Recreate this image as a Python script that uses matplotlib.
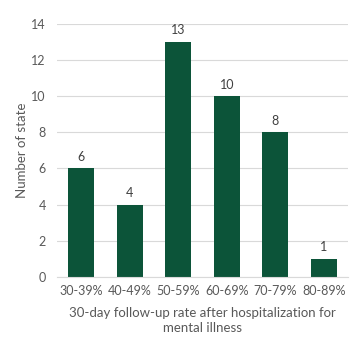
import matplotlib.pyplot as plt

categories = ["30-39%", "40-49%", "50-59%", "60-69%", "70-79%", "80-89%"]
counts = [6, 4, 13, 10, 8, 1]
y_ticks = [0, 2, 4, 6, 8, 10, 12, 14]

bar_color = "#0c5439"
text_color = "#595959"
grid_color = "#d9d9d9"

plt.rcParams["font.family"] = ["Lato", "DejaVu Sans"]

fig = plt.figure(figsize=(3.56, 3.51), dpi=100)
ax = fig.add_axes([0.160, 0.211, 0.818, 0.721])

x = range(len(categories))
bars = ax.bar(x, counts, width=0.54, color=bar_color, zorder=2)

for rect, val in zip(bars, counts):
    ax.annotate(str(val), (rect.get_x() + rect.get_width() / 2, val),
                xytext=(0, 4), textcoords="offset points",
                ha="center", va="bottom", fontsize=9, color="#404040")

ax.set_xlim(-0.5, len(categories) - 0.5)
ax.set_ylim(0, 14)
ax.set_yticks(y_ticks)
ax.set_xticks(list(x))
ax.set_xticklabels(categories)
ax.tick_params(axis="both", length=0, labelsize=9, labelcolor=text_color)
ax.tick_params(axis="y", pad=8)
ax.tick_params(axis="x", pad=6)

ax.grid(axis="y", color=grid_color, linewidth=0.8, zorder=0)
for side in ["top", "right", "left"]:
    ax.spines[side].set_visible(False)
ax.spines["bottom"].set_color(grid_color)
ax.spines["bottom"].set_linewidth(0.8)

ax.set_xlabel("30-day follow-up rate after hospitalization for\nmental illness",
              fontsize=9.5, color=text_color, labelpad=7, linespacing=1.35)
ax.set_ylabel("Number of state", fontsize=9.5, color=text_color, labelpad=2)

fig.savefig("out.png", dpi=100)
plt.close(fig)
